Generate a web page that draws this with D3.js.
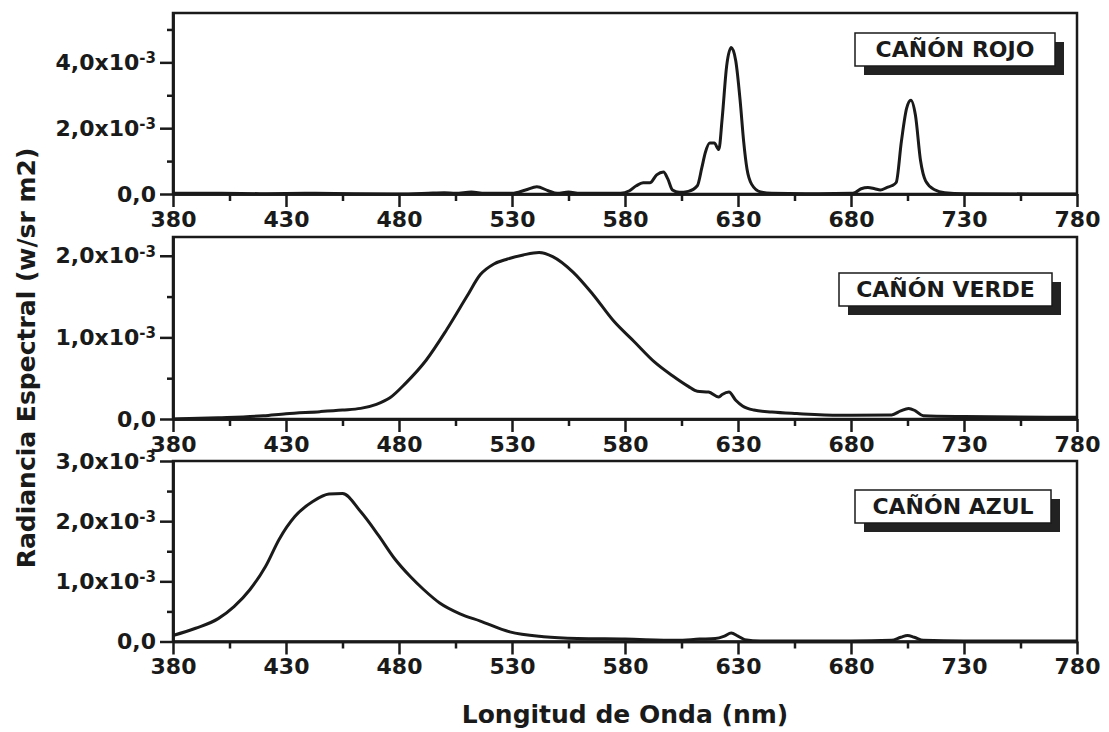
<!DOCTYPE html>
<html>
  <head>
    <meta charset="utf-8">
    <title>Radiancia espectral de los cañones</title>
    <script src="https://d3js.org/d3.v7.min.js"></script>
    <style>
      body { margin: 0; background: #fff; }
      svg { font-family: "DejaVu Sans", sans-serif; font-weight: bold; }
      .axis path, .axis line { stroke: #1a1a1a; stroke-width: 2.5px; }
      .axis text { fill: #1a1a1a; font-size: 22px; font-family: "DejaVu Sans", sans-serif; font-weight: bold; }
      .frame { fill: none; stroke: #1a1a1a; stroke-width: 2.5px; }
      .curve { fill: none; stroke: #1a1a1a; stroke-width: 3px; stroke-linejoin: round; }
      .tag { fill: #fff; stroke: #1a1a1a; stroke-width: 1.5px; }
      .tagShadow { fill: #222; }
      .tagText { font-size: 22px; fill: #1a1a1a; }
      .title { font-size: 25px; fill: #1a1a1a; }
    </style>
  </head>
  <body>
    <svg id="chart" width="1109" height="732"></svg>
    <script>
      // data: wavelength (nm), radiance in units of 1e-3 w/sr m2
      rojo = [
        [380, 0.02], [400, 0.02], [420, 0.01], [440, 0.02], [460, 0.01], [480, 0.0],
        [495, 0.03], [500, 0.04], [505, 0.02], [512, 0.06], [518, 0.02], [530, 0.02],
        [536, 0.12], [541, 0.22], [546, 0.1], [550, 0.02], [555, 0.06], [560, 0.02],
        [570, 0.02], [578, 0.02], [582, 0.1], [585, 0.25], [588, 0.34], [591, 0.34],
        [594, 0.58], [597, 0.67], [599, 0.45], [601, 0.12], [604, 0.05], [608, 0.08],
        [612, 0.25], [614, 0.8], [615.5, 1.25], [617.5, 1.55], [619.5, 1.55], [621.5, 1.35],
        [623, 2.3], [625, 3.9], [627, 4.45], [629, 4.05], [631, 2.8], [632.5, 1.6],
        [634, 0.75], [636, 0.3], [640, 0.06], [645, 0.02], [660, 0.01], [680, 0.02],
        [682, 0.05], [684.5, 0.16], [687.5, 0.2], [690.5, 0.16], [693, 0.12], [696, 0.2],
        [698, 0.25], [700, 0.35], [702.3, 1.6], [704.6, 2.6], [706.5, 2.85], [708.5, 2.4],
        [710.8, 1.0], [713, 0.4], [717, 0.13], [721.5, 0.04], [730, 0.01], [780, 0.0]
      ];
      verde = [
        [380, 0.0], [400, 0.015], [420, 0.04], [430, 0.065], [445, 0.09], [455, 0.11],
        [463, 0.13], [470, 0.18], [476, 0.26], [483, 0.44], [492, 0.72], [501, 1.09],
        [510, 1.5], [516, 1.77], [522, 1.9], [528, 1.96], [535, 2.01], [542, 2.04],
        [548, 1.99], [557, 1.8], [566, 1.52], [575, 1.2], [584, 0.95], [593, 0.7],
        [601, 0.53], [608, 0.4], [612, 0.34], [617, 0.33], [621.5, 0.27], [623, 0.3],
        [626, 0.33], [629, 0.23], [632, 0.16], [637, 0.11], [645, 0.085], [656, 0.066],
        [675, 0.045], [698, 0.05], [702, 0.1], [705.5, 0.13], [708.5, 0.1], [712, 0.04],
        [730, 0.03], [780, 0.02]
      ];
      azul = [
        [380, 0.1], [390, 0.22], [400, 0.38], [407, 0.58], [414, 0.86], [421, 1.25],
        [427, 1.7], [434, 2.08], [442, 2.33], [449, 2.45], [455, 2.46], [463, 2.16],
        [471, 1.76], [478, 1.38], [485, 1.08], [491, 0.86], [498, 0.64], [507, 0.46],
        [516, 0.34], [529, 0.16], [544, 0.08], [559, 0.05], [580, 0.04], [603, 0.02],
        [613, 0.04], [620, 0.05], [624, 0.09], [627, 0.14], [630, 0.09], [633, 0.03],
        [640, 0.01], [680, 0.01], [698, 0.02], [702, 0.07], [705, 0.1], [708, 0.07],
        [712, 0.02], [730, 0.01], [780, 0.01]
      ];
      series = [rojo, verde, azul];
      names = ["CAÑÓN ROJO", "CAÑÓN VERDE", "CAÑÓN AZUL"];
      yMax = [5.5, 2.23, 3.0];
      yMajor = [[0, 2, 4], [0, 1, 2], [0, 1, 2, 3]];
      yMinor = [[1, 3, 5], [0.5, 1.5], [0.5, 1.5, 2.5]];
      xMajor = [380, 430, 480, 530, 580, 630, 680, 730, 780];
      xMinor = [405, 455, 505, 555, 605, 655, 705, 755];

      // layout
      left = 173, right = 1077;
      panelTop = [13, 237, 461];
      panelBottom = [194, 419, 641.5];
      tagBox = [
        { x: 855, y: 33, w: 200 },
        { x: 839, y: 273, w: 213 },
        { x: 855, y: 490, w: 196 }
      ];

      svg = d3.select("#chart");
      x = d3.scaleLinear().domain([380, 780]).range([left, right]);

      function yLabel(d) {
        return d === 0 ? "0,0" : d.toFixed(1).replace(".", ",") + "x10";
      }

      series.forEach(function(data, i) {
        y = d3.scaleLinear().domain([0, yMax[i]]).range([panelBottom[i], panelTop[i]]);
        g = svg.append("g");

        // frame
        g.append("rect")
          .classed("frame", true)
          .attr("x", left)
          .attr("y", panelTop[i])
          .attr("width", right - left)
          .attr("height", panelBottom[i] - panelTop[i]);

        // curve
        line = d3.line()
          .x(function(d) { return x(d[0]); })
          .y(function(d) { return y(d[1]); })
          .curve(d3.curveMonotoneX);
        g.append("path")
          .datum(data)
          .classed("curve", true)
          .attr("d", line);

        // axes
        g.append("g")
          .classed("axis", true)
          .attr("transform", "translate(" + left + ",0)")
          .call(d3.axisLeft(y).tickValues(yMinor[i]).tickSize(6).tickSizeOuter(0).tickFormat(""));
        yAxis = g.append("g")
          .classed("axis", true)
          .attr("transform", "translate(" + left + ",0)")
          .call(d3.axisLeft(y).tickValues(yMajor[i]).tickSize(13).tickPadding(4).tickSizeOuter(0).tickFormat(yLabel));
        yAxis.selectAll(".tick text")
          .filter(function(d) { return d !== 0; })
          .append("tspan")
            .attr("dy", "-0.45em")
            .attr("font-size", "15px")
            .text("-3");
        g.append("g")
          .classed("axis", true)
          .attr("transform", "translate(0," + panelBottom[i] + ")")
          .call(d3.axisBottom(x).tickValues(xMinor).tickSize(7).tickSizeOuter(0).tickFormat(""));
        g.append("g")
          .classed("axis", true)
          .attr("transform", "translate(0," + panelBottom[i] + ")")
          .call(d3.axisBottom(x).tickValues(xMajor).tickSize(13).tickPadding(4).tickSizeOuter(0).tickFormat(d3.format("d")));

        // name tag
        b = tagBox[i];
        g.append("rect")
          .classed("tagShadow", true)
          .attr("x", b.x + 9)
          .attr("y", b.y + 9)
          .attr("width", b.w)
          .attr("height", 33);
        g.append("rect")
          .classed("tag", true)
          .attr("x", b.x)
          .attr("y", b.y)
          .attr("width", b.w)
          .attr("height", 33);
        g.append("text")
          .classed("tagText", true)
          .attr("x", b.x + b.w / 2)
          .attr("y", b.y + 24)
          .attr("text-anchor", "middle")
          .text(names[i]);
      });

      // axis titles
      svg.append("text")
        .classed("title", true)
        .attr("x", 625)
        .attr("y", 723)
        .attr("text-anchor", "middle")
        .text("Longitud de Onda (nm)");
      svg.append("text")
        .classed("title", true)
        .attr("transform", "translate(35,358) rotate(-90)")
        .attr("text-anchor", "middle")
        .text("Radiancia Espectral (w/sr m2)");
    </script>
  </body>
</html>
